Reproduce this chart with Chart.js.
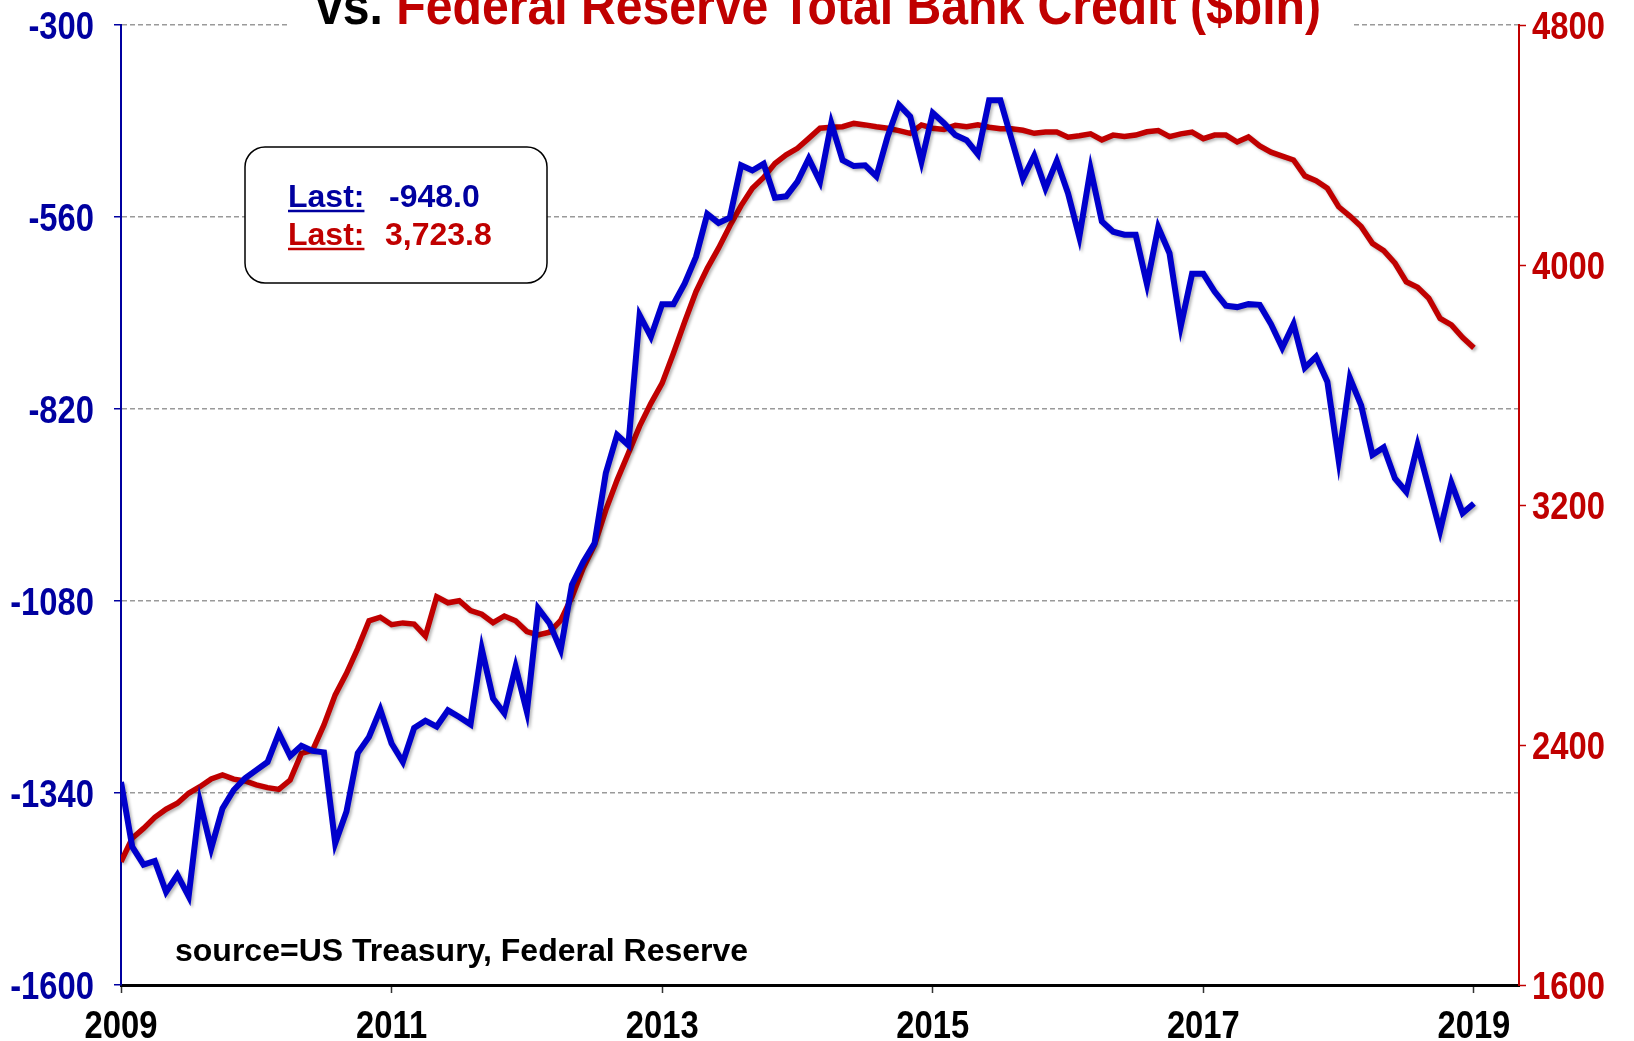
<!DOCTYPE html>
<html>
<head>
<meta charset="utf-8">
<script src="https://cdn.jsdelivr.net/npm/chart.js@4.4.1/dist/chart.umd.min.js"></script>
<style>
  html, body { margin: 0; padding: 0; background: #fff; }
  #wrap { width: 1634px; height: 1041px; }
</style>
</head>
<body>
<div id="wrap"><canvas id="chart" width="1634" height="1041"></canvas></div>
<script>
// monthly, Jan 2009 .. Jan 2019
const yearLabels = ['2009', '2011', '2013', '2015', '2017', '2019'];
const leftTicks = [-1600, -1340, -1080, -820, -560, -300];
const rightTicks = [1600, 2400, 3200, 4000, 4800];

const treasury = [
  -1325, -1413, -1437, -1432, -1474, -1451, -1480, -1352, -1415, -1361, -1336, -1320,
  -1309, -1298, -1259, -1290, -1276, -1283, -1285, -1408, -1365, -1286, -1264, -1227,
  -1273, -1298, -1252, -1242, -1250, -1228, -1237, -1247, -1145, -1212, -1232, -1169,
  -1230, -1090, -1110, -1146, -1058, -1027, -1002, -907, -855, -869, -693, -722,
  -678, -678, -650, -614, -556, -568, -561, -490, -497, -488, -534, -532,
  -512, -481, -512, -433, -483, -491, -490, -505, -451, -408, -424, -485,
  -419, -433, -449, -456, -475, -402, -402, -455, -508, -477, -521, -484,
  -528, -587, -495, -566, -580, -584, -584, -651, -574, -609, -708, -637,
  -637, -661, -680, -682, -678, -679, -705, -737, -705, -764, -749, -783,
  -889, -778, -815, -882, -872, -914, -932, -869, -927, -985, -920, -961,
  -948.0
];

const fedCredit = [
  2011, 2089, 2122, 2159, 2186, 2206, 2239, 2261, 2287, 2300, 2286, 2280,
  2267, 2258, 2252, 2283, 2372, 2383, 2467, 2567, 2639, 2722, 2814, 2826,
  2801, 2807, 2803, 2763, 2894, 2874, 2881, 2848, 2836, 2808, 2830, 2814,
  2778, 2767, 2776, 2815, 2894, 2990, 3067, 3183, 3283, 3372, 3463, 3539,
  3606, 3706, 3811, 3911, 3989, 4056, 4130, 4198, 4256, 4292, 4338, 4367,
  4389, 4422, 4456, 4459, 4461, 4472, 4467, 4461, 4456, 4448, 4439, 4467,
  4456, 4452, 4466, 4461, 4467, 4459, 4454, 4454, 4449, 4439, 4443, 4443,
  4426, 4431, 4437, 4417, 4433, 4428, 4433, 4444, 4448, 4428, 4437, 4443,
  4421, 4433, 4433, 4410, 4427, 4397, 4376, 4363, 4350, 4297, 4281, 4256,
  4194, 4163, 4128, 4072, 4048, 4006, 3944, 3926, 3889, 3822, 3800, 3758,
  3723.8
];

const BLUE = '#0000CC';
const NAVY = '#0000A0';
const RED = '#C00000';
const FONT = "'Liberation Sans', Arial, sans-serif";
const SQUEEZE = 0.84;   // the original uses a condensed face for the axes

const toPoints = arr => arr.map((v, i) => ({ x: i, y: v }));

function squeezedText(ctx, text, x, y, align) {
  const w = ctx.measureText(text).width * SQUEEZE;
  let left = x;
  if (align === 'right') left = x - w;
  else if (align === 'center') left = x - w / 2;
  ctx.save();
  ctx.translate(left, y);
  ctx.scale(SQUEEZE, 1);
  ctx.fillText(text, 0, 0);
  ctx.restore();
}

const decor = {
  id: 'decor',
  beforeDatasetsDraw(chart) {
    const ctx = chart.ctx;
    ctx.save();
    ctx.shadowColor = 'rgba(0,0,0,0.28)';
    ctx.shadowBlur = 3;
    ctx.shadowOffsetX = 2;
    ctx.shadowOffsetY = 2;
  },
  afterDatasetsDraw(chart) {
    chart.ctx.restore();
  },
  afterDraw(chart) {
    const ctx = chart.ctx;
    const { x, y, y2 } = chart.scales;
    ctx.save();
    ctx.textBaseline = 'alphabetic';

    // axis labels, condensed
    ctx.font = `bold 39px ${FONT}`;
    ctx.fillStyle = NAVY;
    leftTicks.forEach(v => squeezedText(ctx, String(v), 94, y.getPixelForValue(v) + 14, 'right'));
    ctx.fillStyle = RED;
    rightTicks.forEach(v => squeezedText(ctx, String(v), 1532, y2.getPixelForValue(v) + 14, 'left'));
    ctx.fillStyle = '#000';
    yearLabels.forEach((lab, k) => squeezedText(ctx, lab, x.getPixelForValue(k * 24), 1038, 'center'));

    // title strip (top line is cut off in the original)
    ctx.fillStyle = '#fff';
    ctx.fillRect(287, 0, 1065, 36);
    ctx.font = `bold 54px ${FONT}`;
    const p1 = 'vs. ', p2 = 'Federal Reserve Total Bank Credit ($bln)';
    const w1 = ctx.measureText(p1).width, w2 = ctx.measureText(p2).width;
    const sx = 1005 / (w1 + w2);
    ctx.save();
    ctx.translate(316, 24);
    ctx.scale(sx, 1);
    ctx.fillStyle = '#000';
    ctx.fillText(p1, 0, 0);
    ctx.fillStyle = RED;
    ctx.fillText(p2, w1, 0);
    ctx.restore();

    // last-value box
    ctx.beginPath();
    ctx.roundRect(245, 147, 302, 136, 20);
    ctx.fillStyle = '#fff';
    ctx.fill();
    ctx.lineWidth = 1.5;
    ctx.strokeStyle = '#000';
    ctx.stroke();

    ctx.font = `bold 32px ${FONT}`;
    const rows = [
      { color: NAVY, y: 207, vx: 389, text: treasury[treasury.length - 1].toFixed(1) },
      { color: RED, y: 245, vx: 385, text: fedCredit[fedCredit.length - 1].toLocaleString('en-US', { minimumFractionDigits: 1 }) }
    ];
    rows.forEach(r => {
      ctx.fillStyle = r.color;
      ctx.strokeStyle = r.color;
      ctx.fillText('Last:', 288, r.y);
      const lw = ctx.measureText('Last:').width;
      ctx.lineWidth = 2.5;
      ctx.beginPath();
      ctx.moveTo(288, r.y + 4);
      ctx.lineTo(288 + lw, r.y + 4);
      ctx.stroke();
      ctx.fillText(r.text, r.vx, r.y);
    });

    ctx.font = `bold 32px ${FONT}`;
    ctx.fillStyle = '#000';
    ctx.fillText('source=US Treasury, Federal Reserve', 175, 961);
    ctx.restore();
  }
};

const data = {
  datasets: [
    {
      label: 'US Treasury',
      data: toPoints(treasury),
      yAxisID: 'y',
      borderColor: BLUE,
      backgroundColor: BLUE,
      borderWidth: 6,
      pointRadius: 0,
      tension: 0,
      fill: false
    },
    {
      label: 'Federal Reserve Total Bank Credit ($bln)',
      data: toPoints(fedCredit),
      yAxisID: 'y2',
      borderColor: RED,
      backgroundColor: RED,
      borderWidth: 5.5,
      pointRadius: 0,
      tension: 0,
      fill: false
    }
  ]
};

const noPad = s => { s.paddingTop = 0; s.paddingBottom = 0; s.paddingLeft = 0; s.paddingRight = 0; };

const config = {
  type: 'line',
  data: data,
  options: {
    responsive: false,
    animation: false,
    devicePixelRatio: 1,
    layout: { padding: { top: 25, left: 0, right: 0, bottom: 0 } },
    plugins: {
      legend: { display: false },
      tooltip: { enabled: false }
    },
    scales: {
      x: {
        type: 'linear',
        min: 0,
        max: 124,
        afterBuildTicks: s => { s.ticks = yearLabels.map((_, k) => ({ value: k * 24 })); },
        afterFit: s => { s.height = 56; noPad(s); },
        ticks: { display: false },
        grid: { drawOnChartArea: false, drawTicks: true, tickLength: 8, tickColor: '#333', tickWidth: 1.5 },
        border: { color: '#000', width: 3 }
      },
      y: {
        position: 'left',
        min: -1600,
        max: -300,
        afterBuildTicks: s => { s.ticks = leftTicks.map(v => ({ value: v })); },
        afterFit: s => { s.width = 121; noPad(s); },
        ticks: { display: false },
        grid: { color: '#9a9a9a', lineWidth: 1.5, tickLength: 7, tickColor: NAVY, tickWidth: 1.5, tickBorderDash: [1, 0] },
        border: { color: NAVY, width: 2, dash: [5, 3] }
      },
      y2: {
        position: 'right',
        min: 1600,
        max: 4800,
        afterBuildTicks: s => { s.ticks = rightTicks.map(v => ({ value: v })); },
        afterFit: s => { s.width = 115; noPad(s); },
        ticks: { display: false },
        grid: { drawOnChartArea: false, tickLength: 7, tickColor: RED, tickWidth: 1.5 },
        border: { color: RED, width: 2 }
      }
    }
  },
  plugins: [decor]
};

const ctx = document.getElementById('chart').getContext('2d');
const chart = new Chart(ctx, config);
</script>
</body>
</html>
